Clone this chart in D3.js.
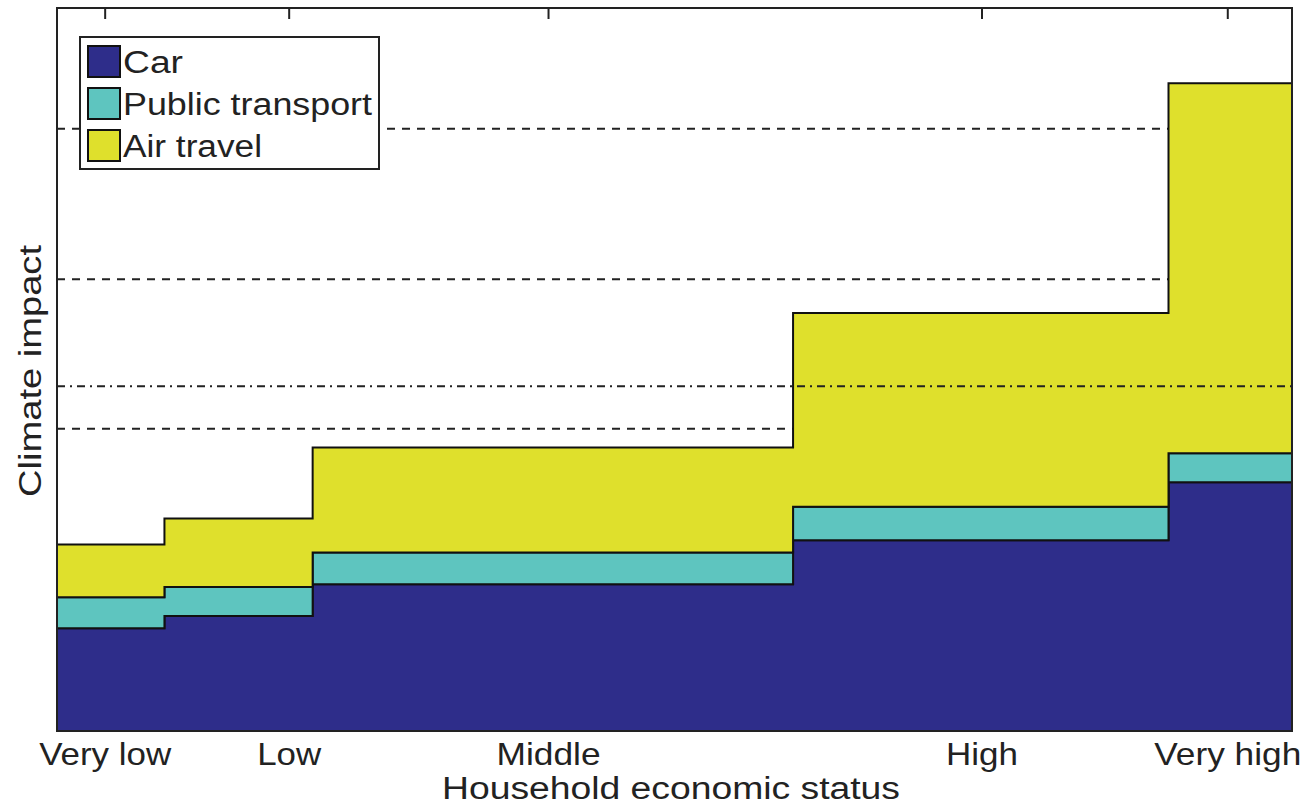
<!DOCTYPE html>
<html>
<head>
<meta charset="utf-8">
<script src="https://cdn.jsdelivr.net/npm/d3@7"></script>
<style>
  body { margin: 0; background: #fff; }
  text { font-family: "Liberation Sans", Arial, sans-serif; fill: #222; }
</style>
</head>
<body>
<svg id="chart" width="1312" height="807"></svg>
<script>
// household groups: step edges on a 0-100 share axis
let edges = [0, 8.7, 20.7, 59.6, 90.0, 100];
let car = [14.2, 15.9, 20.3, 26.4, 34.4];
let publicTransport = [4.3, 4.0, 4.4, 4.6, 4.0];
let airTravel = [7.3, 9.5, 14.5, 26.8, 51.2];

let seriesNames = ['Car', 'Public transport', 'Air travel'];
let seriesColors = ['#2e2d8a', '#5ec5bf', '#dfe02c'];

let tickPos = [3.9, 18.8, 39.8, 74.9, 94.8];
let tickLabels = ['Very low', 'Low', 'Middle', 'High', 'Very high'];
let tickWidths = [132, 64, 104, 72, 147];

let dashedLevels = [83.3, 62.5, 41.8];
let dashDotLevel = 47.7;

let svg = d3.select('#chart');

let x = d3.scaleLinear().domain([0, 100]).range([57, 1292]);
let y = d3.scaleLinear().domain([0, 100]).range([731, 8]);

// rows for the stack, last edge repeats the last value for the step curve
let rows = edges.map(function(e, i) {
  let k = Math.min(i, car.length - 1);
  return { x: e, car: car[k], pt: publicTransport[k], air: airTravel[k] };
});

let stack = d3.stack().keys(['car', 'pt', 'air']);
let layers = stack(rows);

// dashed reference lines (behind the areas)
svg.append('g')
  .selectAll('line')
  .data(dashedLevels)
  .enter()
  .append('line')
  .attr('x1', x(0)).attr('x2', x(100))
  .attr('y1', d => y(d)).attr('y2', d => y(d))
  .attr('stroke', '#222')
  .attr('stroke-width', 2)
  .attr('stroke-dasharray', '8,7');

let area = d3.area()
  .curve(d3.curveStepAfter)
  .x(d => x(d.data.x))
  .y0(d => y(d[0]))
  .y1(d => y(d[1]));

svg.append('g')
  .selectAll('path')
  .data(layers)
  .enter()
  .append('path')
  .attr('d', area)
  .attr('fill', (d, i) => seriesColors[i])
  .attr('stroke', '#111')
  .attr('stroke-width', 2);

// dash-dot line on top
svg.append('line')
  .attr('x1', x(0)).attr('x2', x(100))
  .attr('y1', y(dashDotLevel)).attr('y2', y(dashDotLevel))
  .attr('stroke', '#222')
  .attr('stroke-width', 2)
  .attr('stroke-dasharray', '8,5,2,5');

// frame
svg.append('rect')
  .attr('x', x(0)).attr('y', y(100))
  .attr('width', x(100) - x(0)).attr('height', y(0) - y(100))
  .attr('fill', 'none')
  .attr('stroke', '#222')
  .attr('stroke-width', 2);

// top ticks (bottom ones sit under the fill)
svg.append('g')
  .selectAll('line')
  .data(tickPos)
  .enter()
  .append('line')
  .attr('x1', d => x(d)).attr('x2', d => x(d))
  .attr('y1', y(100)).attr('y2', y(100) + 11)
  .attr('stroke', '#222')
  .attr('stroke-width', 2);

// tick labels
svg.append('g')
  .selectAll('text')
  .data(tickLabels)
  .enter()
  .append('text')
  .attr('x', (d, i) => x(tickPos[i]) - tickWidths[i] / 2)
  .attr('y', 765)
  .attr('font-size', 32)
  .attr('textLength', (d, i) => tickWidths[i])
  .attr('lengthAdjust', 'spacingAndGlyphs')
  .text(d => d);

svg.append('text')
  .attr('x', 442)
  .attr('y', 799)
  .attr('font-size', 31)
  .attr('textLength', 458)
  .attr('lengthAdjust', 'spacingAndGlyphs')
  .text('Household economic status');

svg.append('text')
  .attr('transform', 'translate(41,497) rotate(-90)')
  .attr('font-size', 32)
  .attr('textLength', 252)
  .attr('lengthAdjust', 'spacingAndGlyphs')
  .text('Climate impact');

// legend
let legend = svg.append('g');
legend.append('rect')
  .attr('x', 80).attr('y', 37)
  .attr('width', 299).attr('height', 132)
  .attr('fill', '#fff')
  .attr('stroke', '#222')
  .attr('stroke-width', 2);

let legendWidths = [60, 249, 139];
let items = legend.selectAll('g.item')
  .data(seriesNames)
  .enter()
  .append('g')
  .attr('class', 'item')
  .attr('transform', (d, i) => 'translate(0,' + (46 + i * 42) + ')');

items.append('rect')
  .attr('x', 88).attr('y', 0)
  .attr('width', 32).attr('height', 31)
  .attr('fill', (d, i) => seriesColors[i])
  .attr('stroke', '#111')
  .attr('stroke-width', 2);

items.append('text')
  .attr('x', 123)
  .attr('y', 27)
  .attr('font-size', 31)
  .attr('textLength', (d, i) => legendWidths[i])
  .attr('lengthAdjust', 'spacingAndGlyphs')
  .text(d => d);
</script>
</body>
</html>
